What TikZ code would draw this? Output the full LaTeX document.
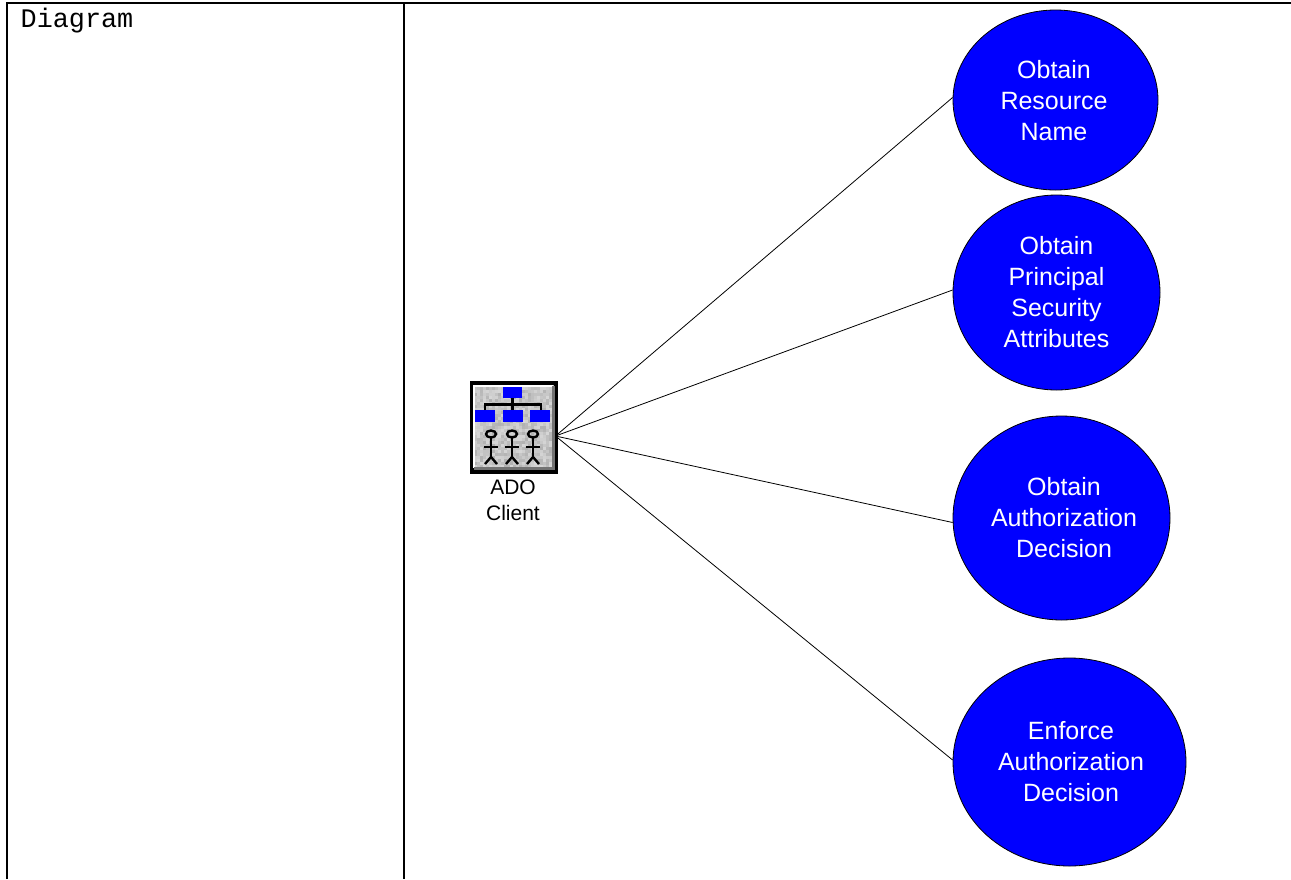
\documentclass[tikz,border=0pt]{standalone}
\usepackage{fontspec}
\setmainfont{Liberation Sans}
\setmonofont{Liberation Mono}
\usepackage{xcolor}
\usetikzlibrary{shapes.geometric}
\definecolor{bluefill}{HTML}{0000FF}
\tikzset{
  rule/.style={draw=black, line width=2.2pt},
  conn/.style={draw=black, line width=0.8pt},
  usecase/.style={ellipse, draw=black, line width=0.8pt, fill=bluefill, inner sep=0pt},
  casetext/.style={text=white, align=center, inner sep=0pt, font=\fontsize{25}{31}\selectfont},
  lab/.style={text=black, align=center, inner sep=0pt, font=\fontsize{21}{26}\selectfont},
  iconbox/.style={fill=bluefill},
  iconline/.style={draw=black, line width=2.4pt},
}
\begin{document}
\begin{tikzpicture}[x=1pt,y=-1pt]
  \useasboundingbox (0,0) rectangle (1291,879);
  % table rules
  \draw[rule] (7,879) -- (7,3) -- (1291,3);
  \draw[rule] (404,3) -- (404,879);
  \node[anchor=base west, inner sep=0pt, font=\ttfamily\fontsize{26.8}{30}\selectfont] (title) at (20.5,27) {Diagram};
  % use cases
  \node[usecase, minimum width=205pt, minimum height=180pt,
    label={[casetext,xshift=-1.5pt,yshift=-1pt]center:Obtain\\Resource\\Name}] (name) at (1055.5,100) {};
  \node[usecase, minimum width=207pt, minimum height=195pt,
    label={[casetext]center:Obtain\\Principal\\Security\\Attributes}] (attrs) at (1056.5,292.5) {};
  \node[usecase, minimum width=217pt, minimum height=204pt,
    label={[casetext,xshift=2.5pt]center:Obtain\\Authorization\\Decision}] (decision) at (1061.5,518) {};
  \node[usecase, minimum width=233pt, minimum height=208pt,
    label={[casetext,xshift=1.5pt]center:Enforce\\Authorization\\Decision}] (enforce) at (1069.5,762) {};
  % client icon
  \node[draw=black, line width=4pt, fill=lightgray, minimum width=84pt, minimum height=89pt, inner sep=0pt] (client) at (514,427.5) {};
  \pgfmathsetseed{11}
  \foreach \x in {474,477,...,550} {
    \foreach \y in {387,390,...,465} {
      \pgfmathsetmacro\shade{16+int(random(0,14))}
      \fill[black!\shade] (\x,\y) rectangle +(3,3);
    }
  }
  \draw[white, line width=2pt] (473,386) -- (553,386);
  \draw[white, line width=2pt] (474,385) -- (474,468);
  \draw[black!55, line width=3pt] (553.5,386) -- (553.5,469);
  \draw[black!55, line width=3pt] (474,468.5) -- (555,468.5);
  \fill[iconbox] (503,387) rectangle (522,398);
  \foreach \x in {475,503,530} {
    \fill[iconbox] (\x,410) rectangle +(20,12);
  }
  \draw[iconline] (512.5,398) -- (512.5,410);
  \draw[iconline] (485,410) -- (485,404.5) -- (541,404.5) -- (541,410);
  \foreach \x in {491,512,533} {
    \draw[iconline] (\x,434) ellipse (5 and 3.5);
    \draw[iconline] (\x,437.5) -- (\x,457);
    \draw[iconline] (\x-7,447) -- (\x+7,447);
    \draw[iconline] (\x-6,464) -- (\x,457) -- (\x+6,464);
  }
  \node[lab, anchor=north] (clientlab) at (513,480) {ADO\\Client};
  % connectors
  \coordinate (hub) at (555.5,436);
  \draw[conn] (hub) -- ([yshift=2.5pt]name.west);
  \draw[conn] (hub) -- ([yshift=2.5pt]attrs.west);
  \draw[conn] (hub) -- ([yshift=-4.5pt]decision.west);
  \draw[conn] (hub) -- ([yshift=2pt]enforce.west);
\end{tikzpicture}
\end{document}
